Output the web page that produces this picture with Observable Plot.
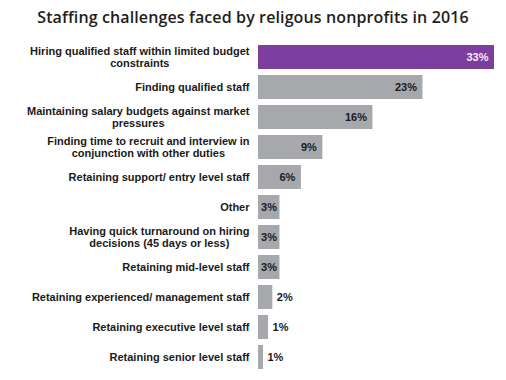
<!DOCTYPE html>
<html>
<head>
<meta charset="utf-8">
<script src="https://cdn.jsdelivr.net/npm/d3@7"></script>
<script src="https://cdn.jsdelivr.net/npm/@observablehq/plot@0.6"></script>
<style>
  html, body { margin: 0; padding: 0; background: #fff; }
  #title { height: 36px; box-sizing: border-box; padding-top: 6px; text-align: center;
    font-family: "Open Sans", sans-serif; font-weight: 600; font-size: 16px; letter-spacing: 0.12px; color: #1e1e1e; width: 506px; }
  #chart svg { display: block; }
</style>
</head>
<body>
<div id="title">Staffing challenges faced by religous nonprofits in 2016</div>
<div id="chart"></div>
<script>
const categories = [
  "Hiring qualified staff within limited budget\nconstraints",
  "Finding qualified staff",
  "Maintaining salary budgets against market\npressures",
  "Finding time to recruit and interview in\nconjunction with other duties",
  "Retaining support/ entry level staff",
  "Other",
  "Having quick turnaround on hiring\ndecisions (45 days or less)",
  "Retaining mid-level staff",
  "Retaining experienced/ management staff",
  "Retaining executive level staff",
  "Retaining senior level staff"
];
const values = [33, 23, 16, 9, 6, 3, 3, 3, 2, 1.4, 0.7];
const valueLabels = ["33%", "23%", "16%", "9%", "6%", "3%", "3%", "3%", "2%", "1%", "1%"];
const highlight = [true, false, false, false, false, false, false, false, false, false, false];

const data = categories.map((c, i) => ({cat: c, value: values[i], label: valueLabels[i], hi: highlight[i]}));
const big = data.filter(d => d.value >= 5);
const mid = data.filter(d => d.value >= 3 && d.value < 5);
const small = data.filter(d => d.value < 3);

const font = "Liberation Sans, Arial, sans-serif";
const lblStyle = {fontSize: 11, fontWeight: "bold"};
const lineStep = 12.6; // px between label lines
const gap = 9;         // px between label block and bar start

// measure label line widths so that wrapped labels are centred within their right-aligned block
const ctx = document.createElement("canvas").getContext("2d");
ctx.font = "bold 11px 'Liberation Sans', Arial, sans-serif";

const single = data.filter(d => !d.cat.includes("\n"));
const labelMarks = [
  Plot.text(single, {y: "cat", x: 0, text: "cat", textAnchor: "end", dx: -gap, ...lblStyle, fill: "#1a1a1a"})
];
data.filter(d => d.cat.includes("\n")).forEach(d => {
  const lines = d.cat.split("\n");
  const W = Math.max(...lines.map(l => ctx.measureText(l).width));
  lines.forEach((line, k) => {
    labelMarks.push(Plot.text([{cat: d.cat, line}], {
      y: "cat", x: 0, text: "line", textAnchor: "middle",
      dx: -gap - W / 2, dy: (k - (lines.length - 1) / 2) * lineStep,
      ...lblStyle, fill: "#1a1a1a"
    }));
  });
});

const plot = Plot.plot({
  width: 506,
  height: 344,
  marginTop: 6,
  marginBottom: 8,
  marginLeft: 258,
  marginRight: 12,
  style: {fontFamily: font, background: "#fff"},
  x: {domain: [0, 33], axis: null},
  y: {domain: categories, axis: null, padding: 0.2, paddingOuter: 0.1},
  marks: [
    Plot.barX(data, {y: "cat", x: "value", fill: d => d.hi ? "#7d3f9f" : "#a7a8ab"}),
    ...labelMarks,
    Plot.text(big, {y: "cat", x: "value", text: "label", textAnchor: "end", dx: -6, ...lblStyle,
      fill: d => d.hi ? "#f3eaf7" : "#1a1a1a"}),
    Plot.text(mid, {y: "cat", x: "value", text: "label", textAnchor: "end", dx: -3, ...lblStyle,
      fill: "#1a1a1a"}),
    Plot.text(small, {y: "cat", x: "value", text: "label", textAnchor: "start", dx: 4, ...lblStyle,
      fill: "#1a1a1a"})
  ]
});
document.getElementById("chart").appendChild(plot);
</script>
</body>
</html>
